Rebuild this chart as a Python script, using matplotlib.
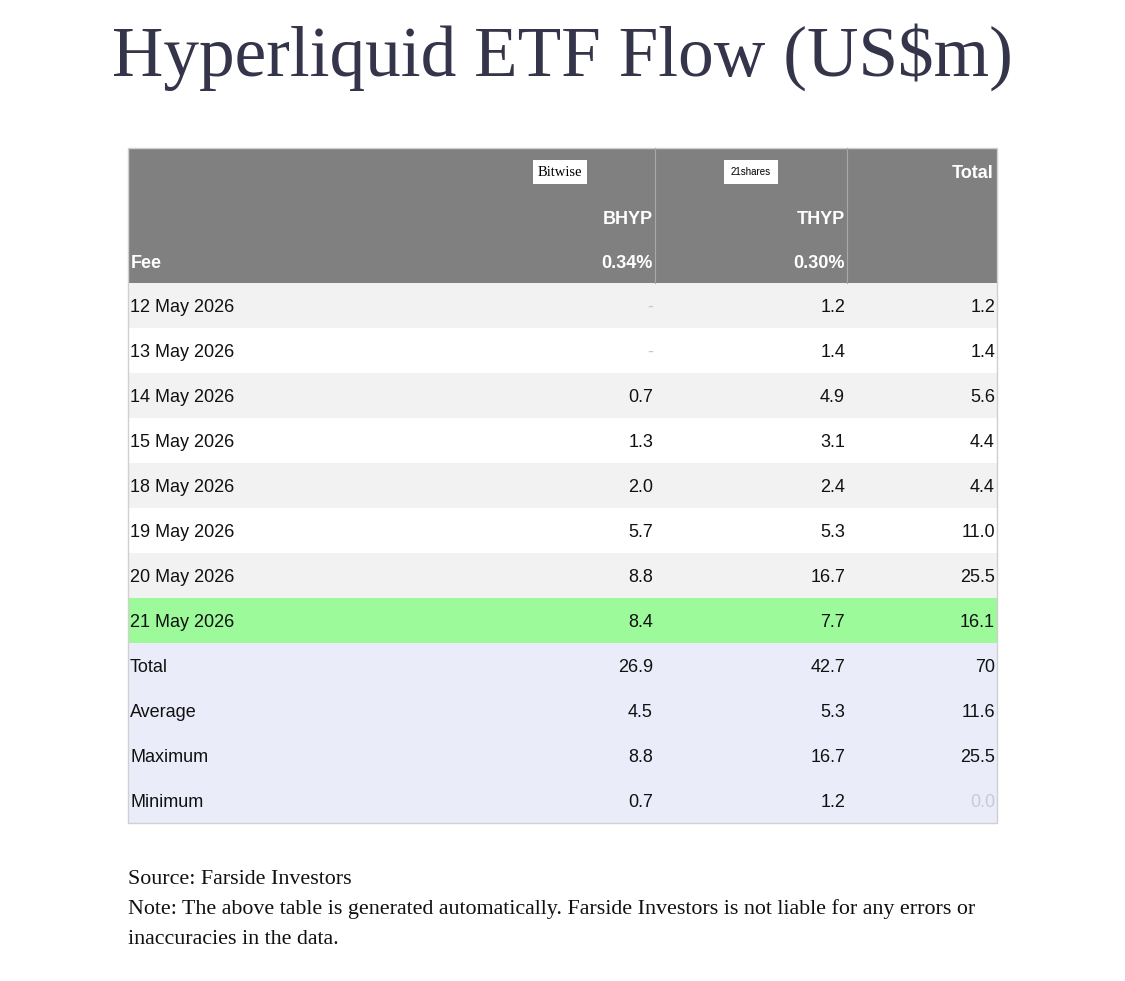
import matplotlib
matplotlib.use("Agg")
import matplotlib.pyplot as plt
from matplotlib.patches import Rectangle

dates = ["12 May 2026", "13 May 2026", "14 May 2026", "15 May 2026",
         "18 May 2026", "19 May 2026", "20 May 2026", "21 May 2026"]
bhyp = [None, None, 0.7, 1.3, 2.0, 5.7, 8.8, 8.4]
thyp = [1.2, 1.4, 4.9, 3.1, 2.4, 5.3, 16.7, 7.7]
total = [1.2, 1.4, 5.6, 4.4, 4.4, 11.0, 25.5, 16.1]

summary_labels = ["Total", "Average", "Maximum", "Minimum"]
summary_bhyp = ["26.9", "4.5", "8.8", "0.7"]
summary_thyp = ["42.7", "5.3", "16.7", "1.2"]
summary_total = ["70", "11.6", "25.5", "0.0"]

tickers = ["BHYP", "THYP"]
fees = ["0.34%", "0.30%"]
issuers = ["Bitwise", "21shares"]

SANS = "Liberation Sans"
SERIF = "Liberation Serif"

fig = plt.figure(figsize=(11.25, 9.81), dpi=100)
ax = fig.add_axes([0, 0, 1, 1])
ax.set_xlim(0, 1125)
ax.set_ylim(981, 0)
ax.axis("off")

# layout (pixels)
left, right = 128, 997
col_edges = [left, 655, 847, right]
head_top, head_bot = 148, 283
row_h = 45
fs = 13
dy = 2  # nudge text down to match baseline

ax.text(562, 57, "Hyperliquid ETF Flow (US$m)", ha="center", va="center",
        fontsize=51.3, family=SERIF, color="#34344a")

# header
ax.add_patch(Rectangle((left, head_top), right - left, head_bot - head_top,
                       facecolor="#808080", edgecolor="none"))
for xe in col_edges[1:3]:
    ax.plot([xe, xe], [head_top, head_bot], color="#a8a8a8", lw=0.8)

ax.text(left + 3, 262 + dy, "Fee", ha="left", va="center", fontsize=fs,
        family=SANS, weight="bold", color="white")
for i in range(2):
    xr = col_edges[i + 1] - 2
    ax.text(xr, 217 + dy, tickers[i], ha="right", va="center", fontsize=fs,
            family=SANS, weight="bold", color="white")
    ax.text(xr, 262 + dy, fees[i], ha="right", va="center", fontsize=fs,
            family=SANS, weight="bold", color="white")
ax.text(right - 3, 172 + dy, "Total", ha="right", va="center", fontsize=fs,
        family=SANS, weight="bold", color="white")

# issuer logos
logo_x = [560, 751]
ax.add_patch(Rectangle((logo_x[0] - 27, 160), 54, 24, facecolor="white"))
ax.text(logo_x[0], 173, issuers[0], ha="center", va="center", fontsize=10.5,
        family=SERIF, color="black")
ax.add_patch(Rectangle((logo_x[1] - 27, 160), 54, 24, facecolor="white"))
ax.text(logo_x[1], 172, issuers[1], ha="center", va="center", fontsize=7,
        family=SANS, color="black")


def fmt(v):
    return "-" if v is None else f"{v:.1f}"


# daily rows
for i, d in enumerate(dates):
    y0 = head_bot + i * row_h
    if i == len(dates) - 1:
        bg = "#9cfa9a"
    else:
        bg = "#f2f2f2" if i % 2 == 0 else "white"
    ax.add_patch(Rectangle((left, y0), right - left, row_h, facecolor=bg,
                           edgecolor="none"))
    yc = y0 + row_h / 2 + dy
    ax.text(left + 2, yc, d, ha="left", va="center", fontsize=fs,
            family=SANS, color="#111111")
    for j, vals in enumerate([bhyp, thyp, total]):
        v = vals[i]
        ax.text(col_edges[j + 1] - 2, yc, fmt(v), ha="right", va="center",
                fontsize=fs, family=SANS,
                color="#c8c8c8" if v is None else "#111111")

# summary rows
sum_top = head_bot + len(dates) * row_h
ax.add_patch(Rectangle((left, sum_top), right - left,
                       row_h * len(summary_labels), facecolor="#ebecfa",
                       edgecolor="none"))
for i, lab in enumerate(summary_labels):
    yc = sum_top + i * row_h + row_h / 2 + dy
    ax.text(left + 2, yc, lab, ha="left", va="center", fontsize=fs,
            family=SANS, color="#111111")
    for j, vals in enumerate([summary_bhyp, summary_thyp, summary_total]):
        faint = lab == "Minimum" and j == 2
        ax.text(col_edges[j + 1] - 2, yc, vals[i], ha="right", va="center",
                fontsize=fs, family=SANS,
                color="#c9cad8" if faint else "#111111")

table_bot = sum_top + row_h * len(summary_labels)
ax.add_patch(Rectangle((left, head_top), right - left, table_bot - head_top,
                       facecolor="none", edgecolor="#d0d0d0", lw=1))

# footnotes
notes = ["Source: Farside Investors",
         "Note: The above table is generated automatically. Farside Investors is not liable for any errors or",
         "inaccuracies in the data."]
for k, line in enumerate(notes):
    ax.text(left, 880 + k * 29.5, line, ha="left", va="center", fontsize=15.8,
            family=SERIF, color="#111111")

fig.savefig("out.png", dpi=100, facecolor="white")
